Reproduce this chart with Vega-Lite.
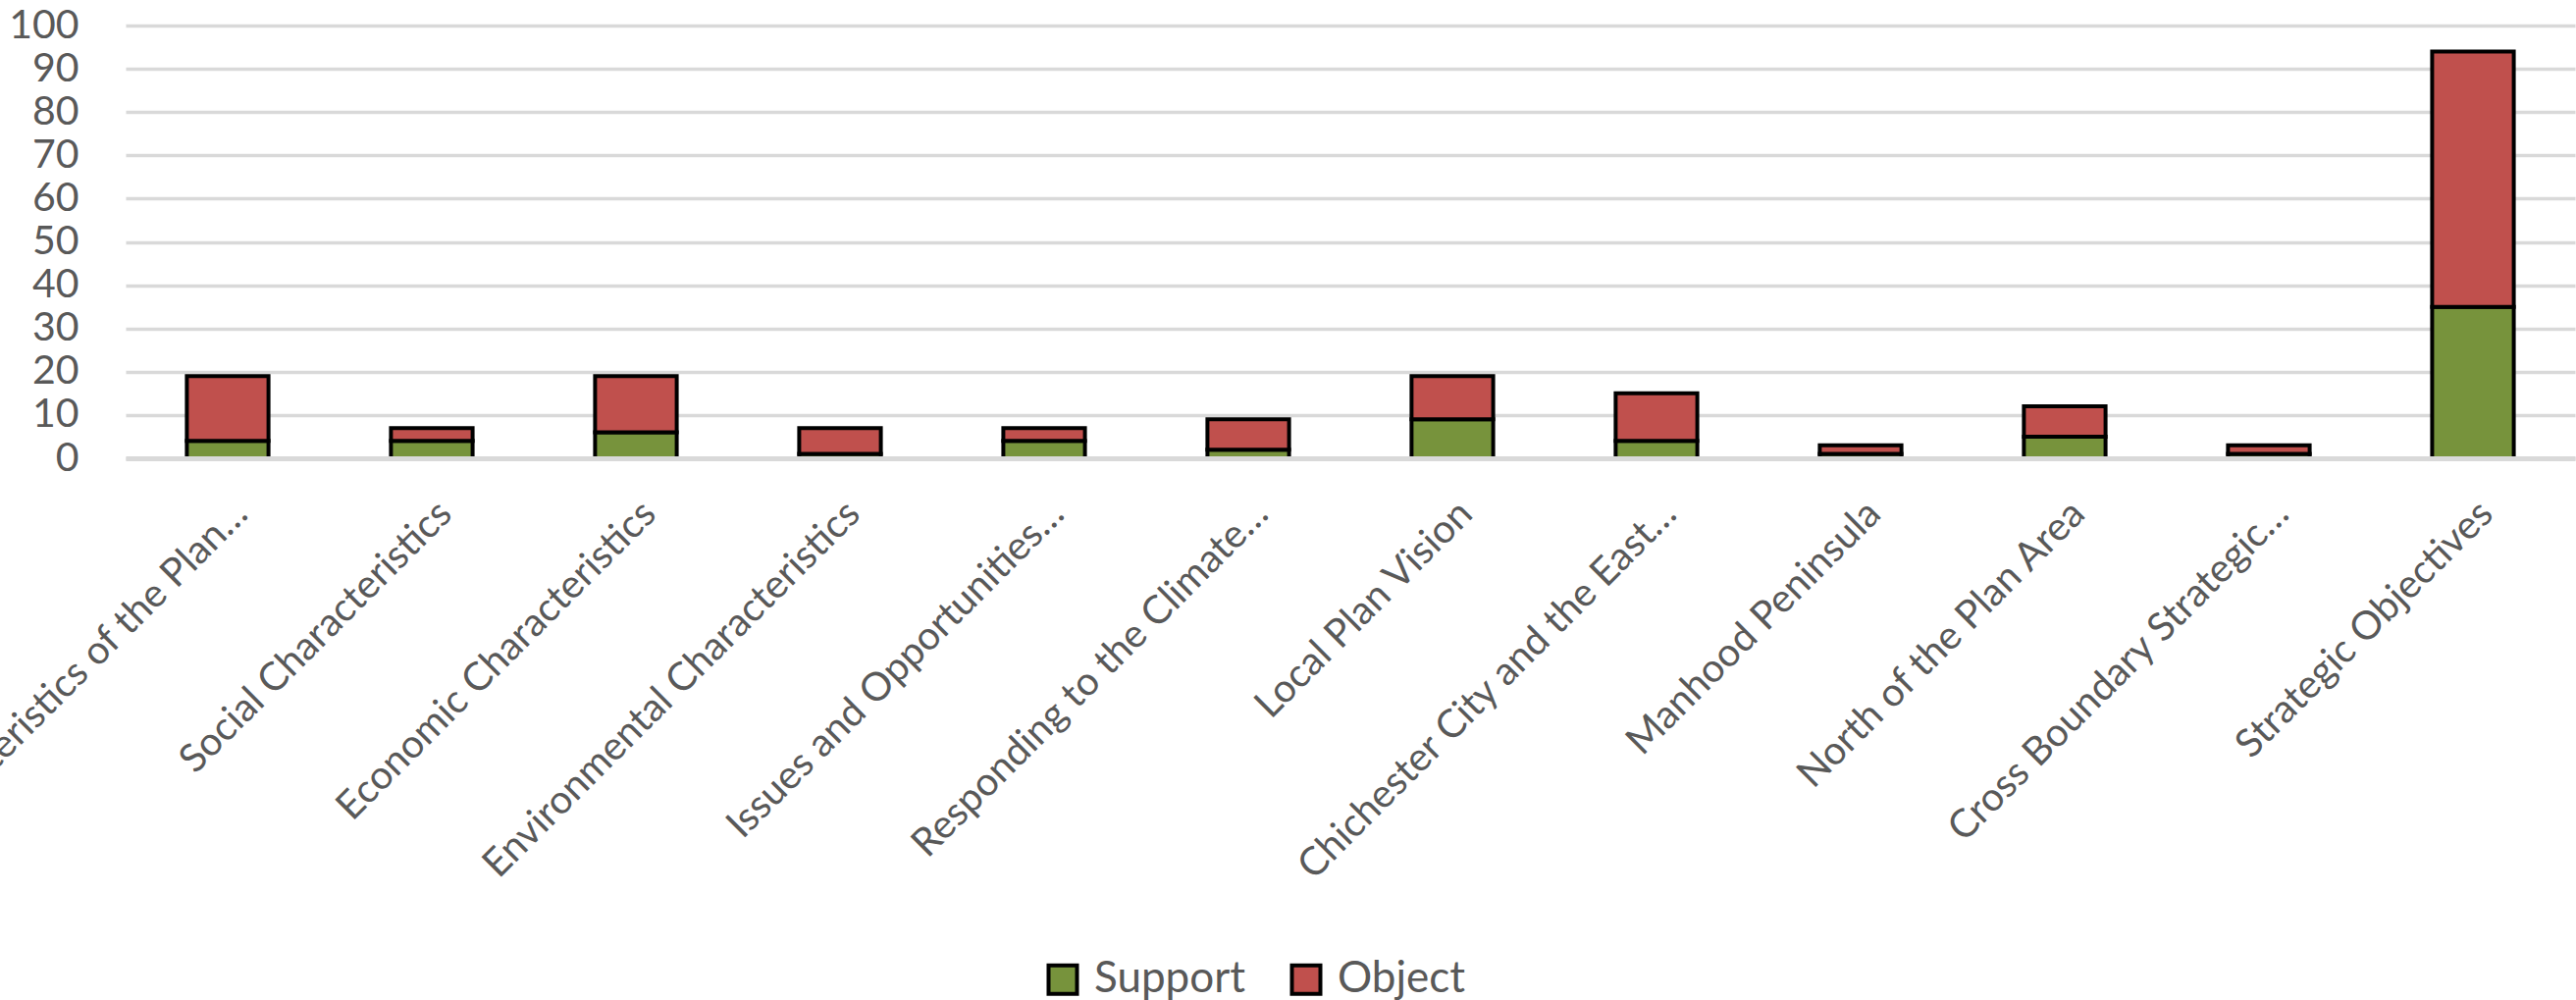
{
  "$schema": "https://vega.github.io/schema/vega-lite/v6.json",
  "autosize": {"type": "none"},
  "width": 2496,
  "height": 441,
  "padding": {"left": 128, "top": 26, "right": 1, "bottom": 552},
  "background": "white",
  "data": {
    "values": [
      {"category": "Characteristics of the Plan…", "type": "Support", "value": 4},
      {"category": "Characteristics of the Plan…", "type": "Object", "value": 15},
      {"category": "Social Characteristics", "type": "Support", "value": 4},
      {"category": "Social Characteristics", "type": "Object", "value": 3},
      {"category": "Economic Characteristics", "type": "Support", "value": 6},
      {"category": "Economic Characteristics", "type": "Object", "value": 13},
      {"category": "Environmental Characteristics", "type": "Support", "value": 1},
      {"category": "Environmental Characteristics", "type": "Object", "value": 6},
      {"category": "Issues and Opportunities…", "type": "Support", "value": 4},
      {"category": "Issues and Opportunities…", "type": "Object", "value": 3},
      {"category": "Responding to the Climate…", "type": "Support", "value": 2},
      {"category": "Responding to the Climate…", "type": "Object", "value": 7},
      {"category": "Local Plan Vision", "type": "Support", "value": 9},
      {"category": "Local Plan Vision", "type": "Object", "value": 10},
      {"category": "Chichester City and the East…", "type": "Support", "value": 4},
      {"category": "Chichester City and the East…", "type": "Object", "value": 11},
      {"category": "Manhood Peninsula", "type": "Support", "value": 1},
      {"category": "Manhood Peninsula", "type": "Object", "value": 2},
      {"category": "North of the Plan Area", "type": "Support", "value": 5},
      {"category": "North of the Plan Area", "type": "Object", "value": 7},
      {"category": "Cross Boundary Strategic…", "type": "Support", "value": 1},
      {"category": "Cross Boundary Strategic…", "type": "Object", "value": 2},
      {"category": "Strategic Objectives", "type": "Support", "value": 35},
      {"category": "Strategic Objectives", "type": "Object", "value": 59}
    ]
  },
  "mark": {"type": "bar", "stroke": "black", "strokeWidth": 4},
  "encoding": {
    "x": {
      "field": "category",
      "type": "nominal",
      "sort": null,
      "title": null,
      "scale": {"paddingInner": 0.6, "paddingOuter": 0.3},
      "axis": {
        "labelAngle": -45,
        "labelAlign": "right",
        "labelBaseline": "middle",
        "labelOffset": 14,
        "labelPadding": 50,
        "ticks": false,
        "tickSize": 0,
        "labelFont": "Lato",
        "labelFontSize": 40,
        "labelColor": "#595959",
        "labelLimit": 2000,
        "labelOverlap": false,
        "labelBound": false,
        "domain": true,
        "domainColor": "#D9D9D9",
        "domainWidth": 5,
        "grid": false,
        "zindex": 1
      }
    },
    "y": {
      "field": "value",
      "type": "quantitative",
      "aggregate": "sum",
      "stack": "zero",
      "title": null,
      "scale": {"domain": [0, 100], "nice": false},
      "axis": {
        "values": [0, 10, 20, 30, 40, 50, 60, 70, 80, 90, 100],
        "domain": false,
        "ticks": false,
        "tickSize": 0,
        "labelPadding": 48,
        "labelFont": "Lato",
        "labelFontSize": 41,
        "labelColor": "#595959",
        "grid": true,
        "gridColor": "#D9D9D9",
        "gridWidth": 3.7
      }
    },
    "color": {
      "field": "type",
      "type": "nominal",
      "scale": {"domain": ["Support", "Object"], "range": ["#77933C", "#C0504D"]},
      "legend": {
        "title": null,
        "orient": "none",
        "direction": "horizontal",
        "legendX": 933,
        "legendY": 950,
        "padding": 0,
        "symbolType": "square",
        "symbolSize": 841,
        "symbolStrokeColor": "black",
        "symbolStrokeWidth": 4,
        "symbolOpacity": 1,
        "labelOffset": 10,
        "columnPadding": 38,
        "labelFont": "Lato",
        "labelFontSize": 44,
        "labelColor": "#595959"
      }
    },
    "order": {"field": "type", "sort": "descending"}
  },
  "config": {"view": {"stroke": null}}
}
